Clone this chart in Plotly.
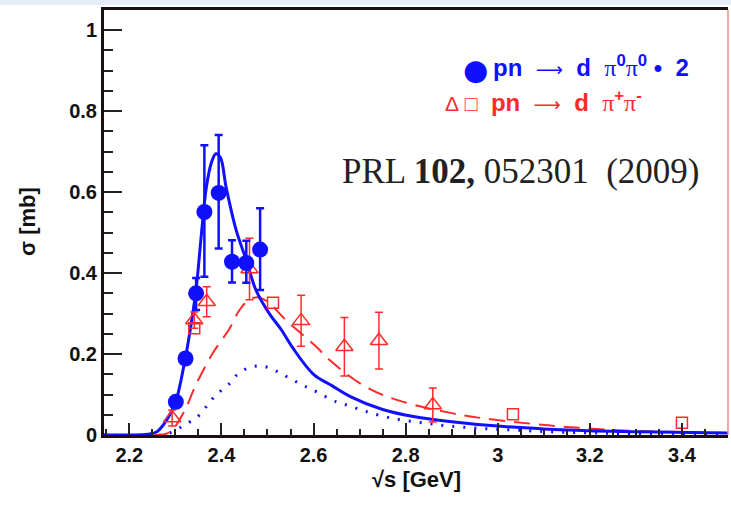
import plotly.graph_objects as go

# ===== data =====
# pn -> d pi0 pi0 (x2), filled circles
pi0_x = [2.301, 2.322, 2.345, 2.363, 2.394, 2.423, 2.454, 2.484]
pi0_y = [0.082, 0.189, 0.350, 0.551, 0.598, 0.428, 0.425, 0.458]
pi0_eup = [0.0, 0.0, 0.038, 0.165, 0.143, 0.053, 0.055, 0.102]
pi0_edn = [0.0, 0.0, 0.041, 0.160, 0.137, 0.051, 0.049, 0.100]

# pn -> d pi+ pi-, open triangles
tri_x = [2.293, 2.341, 2.368, 2.461, 2.573, 2.667, 2.742, 2.859]
tri_y = [0.042, 0.284, 0.329, 0.410, 0.282, 0.218, 0.233, 0.074]
tri_err = [0.020, 0.020, 0.037, 0.076, 0.063, 0.072, 0.070, 0.042]

# pn -> d pi+ pi-, open squares
sq_x = [2.341, 2.512, 3.033, 3.400]
sq_y = [0.264, 0.327, 0.051, 0.030]

# model curves
solid_x = [2.145, 2.20, 2.24, 2.26, 2.28, 2.30, 2.32, 2.335, 2.345, 2.356, 2.367, 2.378,
           2.388, 2.398, 2.41, 2.432, 2.454, 2.475, 2.504, 2.53, 2.555, 2.60, 2.64, 2.68,
           2.75, 2.82, 2.90, 3.00, 3.10, 3.25, 3.50]
solid_y = [0.0, 0.0, 0.002, 0.008, 0.035, 0.080, 0.180, 0.280, 0.360, 0.490, 0.610, 0.672,
           0.695, 0.685, 0.613, 0.506, 0.432, 0.358, 0.300, 0.260, 0.215, 0.150, 0.122, 0.095,
           0.063, 0.045, 0.033, 0.022, 0.015, 0.009, 0.005]

dash_x = [2.145, 2.26, 2.28, 2.293, 2.32, 2.345, 2.38, 2.417, 2.44, 2.46, 2.48, 2.50, 2.54,
          2.606, 2.635, 2.70, 2.75, 2.82, 2.90, 2.97, 3.08, 3.15, 3.26, 3.37, 3.50]
dash_y = [0.0, 0.0, 0.003, 0.012, 0.060, 0.125, 0.200, 0.262, 0.310, 0.334, 0.340, 0.330, 0.284,
          0.218, 0.185, 0.128, 0.099, 0.074, 0.054, 0.041, 0.027, 0.020, 0.012, 0.008, 0.005]

dot_x = [2.145, 2.27, 2.294, 2.32, 2.348, 2.37, 2.388, 2.414, 2.435, 2.461, 2.49, 2.519, 2.548,
         2.577, 2.606, 2.649, 2.678, 2.714, 2.772, 2.838, 2.896, 2.968, 3.04, 3.113, 3.25, 3.5]
dot_y = [0.0, 0.0, 0.008, 0.025, 0.045, 0.074, 0.099, 0.123, 0.150, 0.167, 0.170, 0.158, 0.140,
         0.123, 0.107, 0.082, 0.072, 0.058, 0.041, 0.030, 0.022, 0.016, 0.012, 0.008, 0.004, 0.002]

x_ticks = [2.2, 2.4, 2.6, 2.8, 3.0, 3.2, 3.4]
x_labels = ["2.2", "2.4", "2.6", "2.8", "3", "3.2", "3.4"]
y_ticks = [0, 0.2, 0.4, 0.6, 0.8, 1.0]
y_labels = ["0", "0.2", "0.4", "0.6", "0.8", "1"]

BLUE = "#1010ff"
RED = "#ff2a2a"
SANS = "Liberation Sans, Arial"
PI = '<span style="font-family:Liberation Serif;font-weight:normal">π</span>'
ARROW = '<span style="font-family:DejaVu Sans;font-weight:normal;font-size:19px">⟶</span>'
SP = "&nbsp;"

fig = go.Figure()

# curves
fig.add_trace(go.Scatter(x=dot_x, y=dot_y, mode="lines", line_shape="spline",
                         line=dict(color=BLUE, width=3, dash="2px,9px")))
fig.add_trace(go.Scatter(x=dash_x, y=dash_y, mode="lines", line_shape="spline",
                         line=dict(color=RED, width=2, dash="16px,9px")))
fig.add_trace(go.Scatter(x=solid_x, y=solid_y, mode="lines", line_shape="spline",
                         line=dict(color=BLUE, width=3)))

# red data
fig.add_trace(go.Scatter(
    x=tri_x, y=tri_y, mode="markers",
    marker=dict(symbol="triangle-up-open", size=15, color=RED, line=dict(width=1.5)),
    error_y=dict(type="data", array=tri_err, color=RED, thickness=1.5, width=4),
))
fig.add_trace(go.Scatter(
    x=sq_x, y=sq_y, mode="markers",
    marker=dict(symbol="square-open", size=11, color=RED, line=dict(width=1.5)),
))

# blue data
fig.add_trace(go.Scatter(
    x=pi0_x, y=pi0_y, mode="markers",
    marker=dict(symbol="circle", size=16, color=BLUE),
    error_y=dict(type="data", symmetric=False, array=pi0_eup, arrayminus=pi0_edn,
                 color=BLUE, thickness=2.5, width=4),
))

# legend rows (pixel positions, converted below)
fig.add_annotation(
    x=475, y=70, xref="paper", yref="paper", xanchor="center", yanchor="middle",
    showarrow=False, text="●", font=dict(family="DejaVu Sans", size=29, color=BLUE),
)
fig.add_annotation(
    x=491, y=66, xref="paper", yref="paper", xanchor="left", yanchor="middle",
    showarrow=False,
    text=("pn " + SP + ARROW + SP + " d " + SP + PI + "<sup>0</sup>" + PI + "<sup>0</sup> "
          + "• " + SP + "2"),
    font=dict(family=SANS, size=24, color=BLUE, weight="bold"),
)
fig.add_annotation(
    x=443, y=101, xref="paper", yref="paper", xanchor="left", yanchor="middle",
    showarrow=False,
    text=('<span style="font-weight:normal;font-size:21px">Δ' + SP + '□</span>' + SP + SP + "pn "
          + SP + ARROW + SP + " d " + SP + PI + "<sup>+</sup>" + PI + "<sup>-</sup>"),
    font=dict(family=SANS, size=24, color=RED, weight="bold"),
)
fig.add_annotation(
    x=701, y=172, xref="paper", yref="paper", xanchor="right", yanchor="middle",
    showarrow=False,
    text="PRL <b>102,</b> 052301&nbsp; (2009)",
    font=dict(family="Liberation Serif, Times New Roman", size=35, color="#222222"),
)
# axis titles
fig.add_annotation(
    x=416, y=479, xref="paper", yref="paper", xanchor="center", yanchor="middle",
    showarrow=False, text="√s [GeV]",
    font=dict(family=SANS, size=22, color="#111111", weight="bold"),
)
fig.add_annotation(
    x=28, y=222, xref="paper", yref="paper", xanchor="center", yanchor="middle",
    showarrow=False, text="σ [mb]", textangle=-90,
    font=dict(family=SANS, size=22, color="#111111", weight="bold"),
)

# annotations above are given in pixels -> convert to paper coords
W, H = 731, 505
L, R, T, B = 104, 3, 10, 70
for a in fig.layout.annotations:
    a.x = (a.x - L) / (W - L - R)
    a.y = 1 - (a.y - T) / (H - T - B)

axis_font = dict(family=SANS, size=20, color="#111111", weight="bold")

fig.update_xaxes(
    range=[2.145, 3.5], tickvals=x_ticks, ticktext=x_labels,
    ticks="inside", ticklen=12, tickwidth=2, tickcolor="#222222",
    minor=dict(ticks="inside", ticklen=6, dtick=0.05, tick0=2.2, tickcolor="#222222", tickwidth=1.5),
    showline=True, linecolor="#1a1010", linewidth=3, mirror=True,
    showgrid=False, zeroline=False, tickfont=axis_font, automargin=False,
)
fig.update_yaxes(
    range=[0, 1.05], tickvals=y_ticks, ticktext=y_labels,
    ticks="inside", ticklen=18, tickwidth=2, tickcolor="#222222",
    minor=dict(ticks="inside", ticklen=9, dtick=0.05, tick0=0, tickcolor="#222222", tickwidth=1.5),
    showline=True, linecolor="#1a1010", linewidth=3, mirror=False,
    showgrid=False, zeroline=False, tickfont=axis_font, automargin=False,
)

fig.update_layout(
    width=W, height=H,
    margin=dict(l=L, r=R, t=T, b=B),
    paper_bgcolor="white", plot_bgcolor="white",
    showlegend=False,
    shapes=[
        dict(type="rect", xref="paper", yref="paper", x0=-0.2, x1=1.1, y0=1.012, y1=1.05,
             fillcolor="#e4ecf8", line=dict(width=0), layer="above"),
        dict(type="line", xref="paper", yref="paper", x0=1, x1=1, y0=0, y1=1,
             line=dict(color="#f08a8a", width=1.5)),
    ],
)

# drop the default page margin so the figure sits at the window's corner
fig.write_html("out.html", config={"displayModeBar": False},
               post_script="document.body.style.margin='0';")
